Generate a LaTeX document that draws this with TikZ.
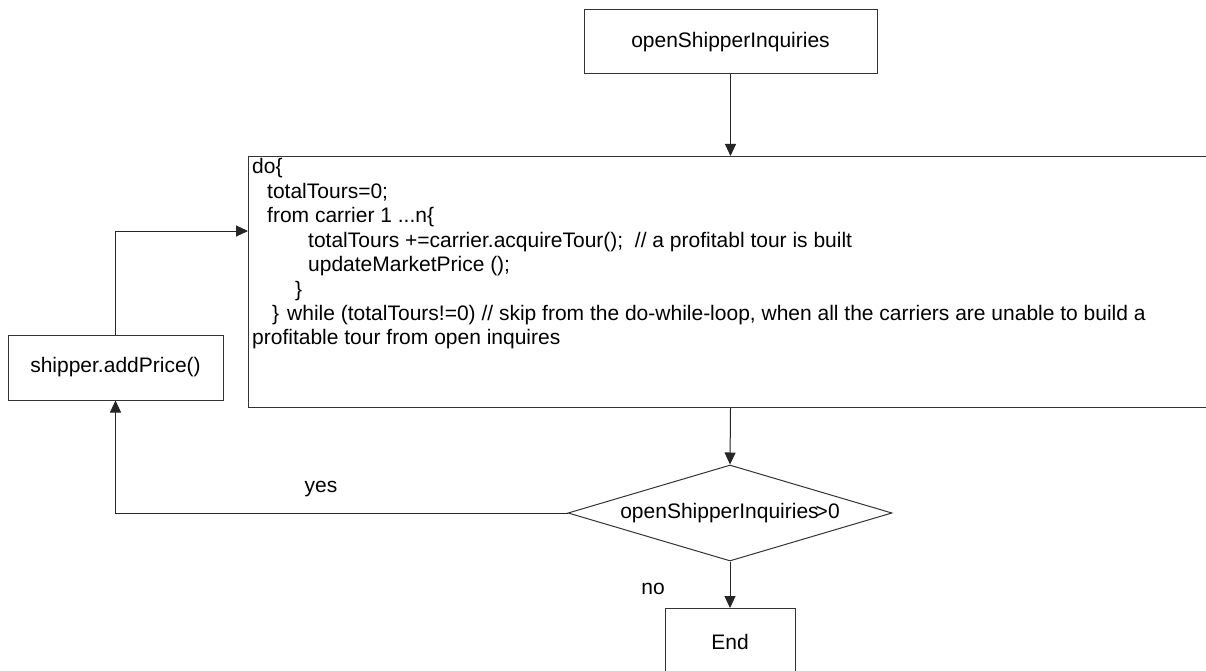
\documentclass[tikz,border=0pt]{standalone}
\usepackage{fontspec}
\setmainfont{Liberation Sans}
\usetikzlibrary{arrows.meta,shapes.geometric,calc}
\begin{document}
\begin{tikzpicture}[x=1pt,y=-1pt,
  box/.style={draw=black!80,line width=1pt,rectangle,inner sep=0pt},
  txt/.style={font=\fontsize{21}{24.4}\selectfont,inner sep=0pt},
  arr/.style={draw=black!85,line width=1pt,-{Triangle[length=12pt,width=11pt]}}]
\clip (0,0) rectangle (1206,671);
\fill[white] (0,0) rectangle (1206,671);

% process boxes
\node[box,txt,minimum width=293pt,minimum height=64pt] (start) at (730.5,42) {openShipperInquiries};
\node[box,minimum width=972pt,minimum height=251pt,anchor=north west] (loop) at (248,156) {};
\node[box,txt,minimum width=215pt,minimum height=65pt] (addp) at (115.5,367.5) {shipper.addPrice()};
\node[draw=black!80,line width=1pt,diamond,txt,minimum width=324pt,minimum height=96pt,aspect=3.375] (dec) at (730,513) {openShipperInquiries\kern-3pt>0};
\node[box,txt,minimum width=130pt,minimum height=66pt,anchor=north] (end) at (730,608) {End};

% pseudo-code inside the loop box
\node[txt,anchor=base west] (c1) at (252,174) {do\{};
\node[txt,anchor=base west] (c2) at (267,198.4) {totalTours=0;};
\node[txt,anchor=base west] (c3) at (267,222.8) {from carrier 1 ...n\{};
\node[txt,anchor=base west] (c4) at (308,247.2) {totalTours +=carrier.acquireTour();\ \ // a profitabl tour is built};
\node[txt,anchor=base west] (c5) at (308,271.6) {updateMarketPrice ();};
\node[txt,anchor=base west] (c6) at (295,296) {\}};
\node[txt,anchor=base west] (c7) at (272,320.4) {\}\hspace{8pt}while (totalTours!=0) // skip from the do-while-loop, when all the carriers are unable to build a};
\node[txt,anchor=base west] (c8) at (252,344.8) {profitable tour from open inquires};

% branch labels
\node[txt] (yes) at (321,489) {yes};
\node[txt] (no) at (653,589) {no};

% connectors
\draw[arr] (start.south) -- (start.south |- loop.north);
\draw[arr] (start.south |- loop.south) -- (dec.north);
\draw[arr] (dec.south) -- (end.north);
\draw[arr] (dec.west) -| (addp.south);
\draw[arr] (addp.north) |- ($(loop.north west)+(0,75)$);
\end{tikzpicture}
\end{document}
